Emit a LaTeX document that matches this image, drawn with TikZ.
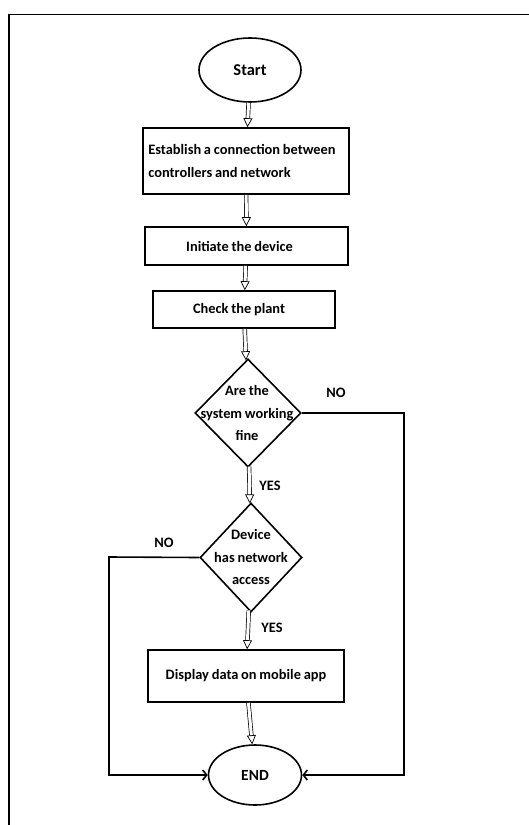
\documentclass[tikz,border=0pt]{standalone}
\usepackage{fontspec}
\setmainfont{Carlito}[WordSpace=0.85]
\usetikzlibrary{shapes.geometric,arrows.meta}

\begin{document}
\begin{tikzpicture}[x=1pt,y=-1pt,
    every node/.style={font=\bfseries\fontsize{14.4}{22.5}\selectfont},
    terminal/.style={ellipse,draw,line width=1.6pt,inner sep=0pt},
    process/.style={rectangle,draw,line width=1.6pt,inner sep=0pt},
    decision/.style={diamond,draw,line width=1.6pt,inner sep=0pt,align=center},
    label/.style={inner sep=0pt},
    flow/.style={draw=black,double=white,double distance=3pt,line width=0.7pt,-{Triangle[open,length=9pt,width=9pt]}},
    branch/.style={draw=black,line width=1.6pt,-{Straight Barb[length=4pt,width=10pt]}}]
    \useasboundingbox (0,0) rectangle (529,825);
    % frame
    \draw[line width=1.4pt] (9,840) -- (9,14.5) -- (545,14.5);

    \begin{scope}
        \node[terminal,minimum width=102pt,minimum height=64pt,font=\bfseries\fontsize{16.5}{20}\selectfont] (start) at (250,70) {Start};
        \node[process,minimum width=206pt,minimum height=66pt,align=left] (connect) at (246,161) {Establish a connection between\hspace*{8pt}\\controllers and network};
        \node[process,minimum width=203pt,minimum height=38pt] (init) at (246.5,246) {Initiate the device\hspace*{14pt}};
        \node[process,minimum width=182pt,minimum height=37pt] (check) at (244,309.5) {Check the plant\hspace*{10pt}};
        \node[decision,minimum width=106pt,minimum height=108pt] (fine) at (248,413) {};
        \node[decision,minimum width=102pt,minimum height=109pt] (access) at (251,557.5) {};
        \node[process,minimum width=196pt,minimum height=52pt] (display) at (246,676) {Display data on mobile app};
        \node[terminal,minimum width=93pt,minimum height=60pt,font=\bfseries\fontsize{15.5}{20}\selectfont] (end) at (255,775) {END};
    \end{scope}

    % texts inside the decisions
    \node[align=center] (finetext) at (247,413) {Are the\\system working\\fine};
    \node[align=center] (accesstext) at (251,557) {Device\\has network\\access};

    \coordinate (noright) at (404,413);
    \coordinate (noleft) at (109,557);

    \begin{scope}
        \path[flow] (start) -- (connect);
        \path[flow] (connect) -- (init);
        \path[flow] (init) -- (check);
        \path[flow] (check) -- (fine);
        \path[flow] (fine) -- (access);
        \path[flow] (access) -- (display);
        \path[flow] (display) -- (end);
        \path[branch] (fine.east) -- (noright) |- (end.east);
        \path[branch] (access.west) -- (noleft) |- (end.west);
    \end{scope}

    \node[label] (yes1) at (270,486) {YES};
    \node[label] (yes2) at (272,628) {YES};
    \node[label] (no1) at (336,393) {NO};
    \node[label] (no2) at (164,543) {NO};
\end{tikzpicture}
\end{document}
